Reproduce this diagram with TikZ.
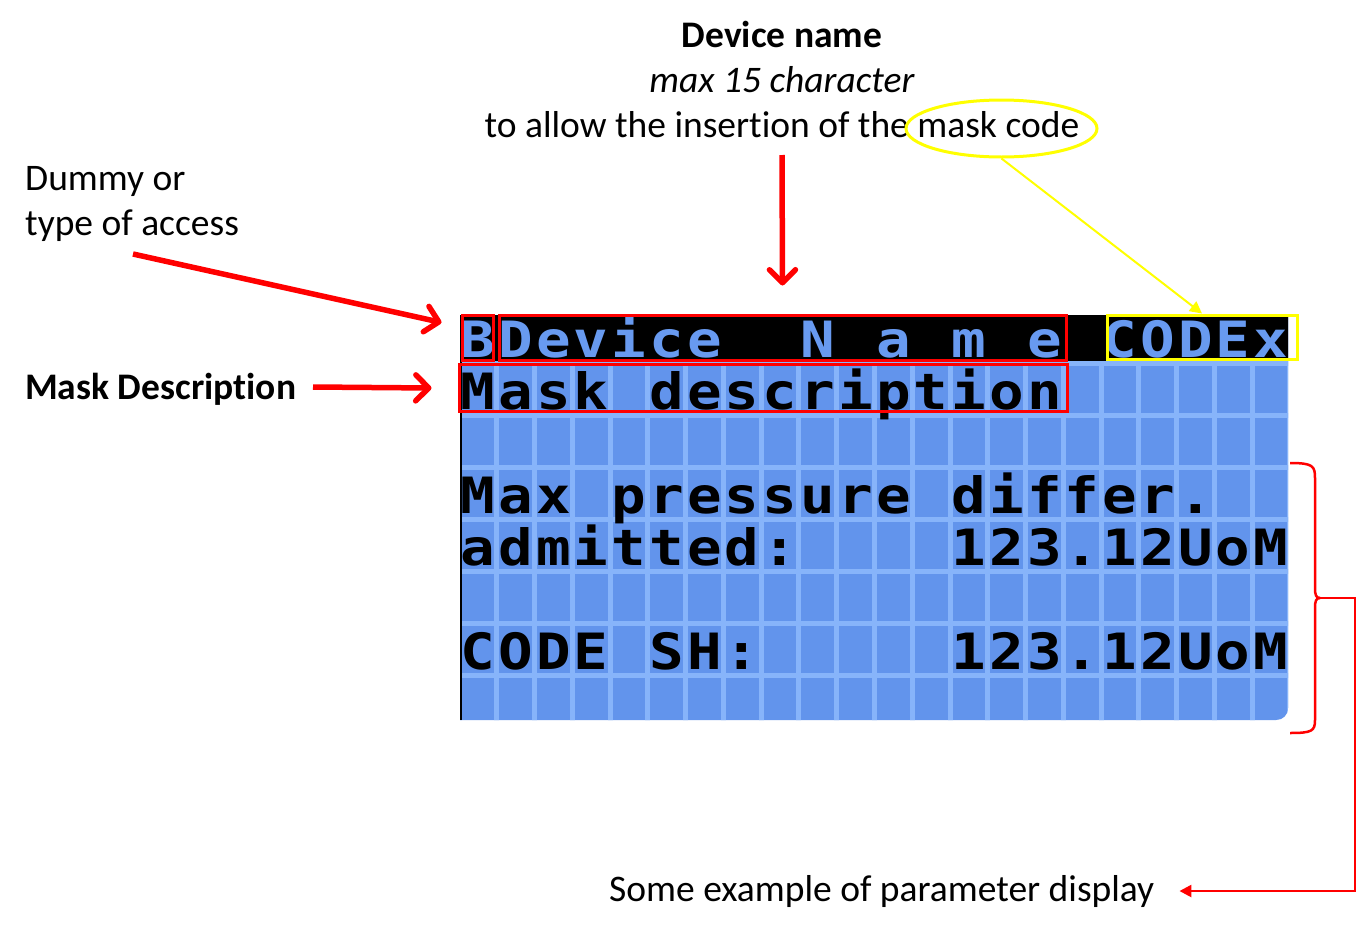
\documentclass[tikz,border=0pt]{standalone}
\usepackage{fontspec}
\setmainfont{Carlito}[Ligatures=NoCommon,Contextuals=NoAlternate]
\newfontfamily\lcdfam[FakeStretch=1.15]{DejaVu Sans Mono}
\usetikzlibrary{arrows.meta,shapes.geometric}
\definecolor{lcdcell}{RGB}{98,148,236}
\definecolor{lcdgap}{RGB}{135,180,250}
\definecolor{lcdtop}{RGB}{104,154,240}
\definecolor{myyellow}{RGB}{255,255,0}
\newcommand\lcdrow[3]{%
  \foreach \ch [count=\k from 0] in {#3} {%
    \if\relax\detokenize\expandafter{\ch}\relax\else
      \node[lcdch, text=#2] (c#1-\k) at ({459+(\k+0.5)*37.77}, {311+#1*52+46}) {\ch};
    \fi
  }}
\tikzset{
  lbl/.style={font=\fontsize{37.5}{45}\selectfont, inner sep=0pt},
  lcdch/.style={font=\lcdfam\bfseries\fontsize{50}{50}\selectfont, anchor=base, inner sep=0pt},
  redbox/.style={draw=red, line width=3pt, inner sep=0pt},
  ybox/.style={draw=myyellow, line width=3pt, inner sep=0pt},
  redarrow/.style={draw=red, line width=5.5pt, -{Straight Barb[length=13pt,width=26pt,round]}},
  yarrow/.style={draw=myyellow, line width=2pt, -{Triangle[length=12pt,width=12pt]}},
  brk/.style={draw=red, line width=2.5pt},
  brarrow/.style={draw=red, line width=2.5pt, -{Triangle[length=12pt,width=12pt]}},
}
\begin{document}
\begin{tikzpicture}[x=1pt,y=-1pt]
\useasboundingbox (0,0) rectangle (1358,937);
\fill[white] (0,0) rectangle (1358,937);
% LCD screen
\begin{scope}
  \clip (460,315) -- (1288,315) -- (1288,708) .. controls (1288,715) and (1283,720) .. (1276,720) -- (460,720) -- cycle;
  \fill[lcdcell] (455,305) rectangle (1295,730);
  \foreach \k in {0,...,22} {\draw[lcdgap, line width=5pt] ({459+\k*37.77},305) -- ({459+\k*37.77},730);}
  \foreach \r in {1,...,8} {\draw[lcdgap, line width=5pt] (455,{311+\r*52}) -- (1295,{311+\r*52});}
  \fill[black] (455,305) rectangle (1295,360.5);
  \draw[black, line width=2.5pt] (461,315) -- (461,720);
  \lcdrow{0}{lcdtop}{B,D,e,v,i,c,e,,,N,,a,,m,,e,,C,O,D,E,x}
  \lcdrow{1}{black}{M,a,s,k,,d,e,s,c,r,i,p,t,i,o,n}
  \lcdrow{3}{black}{M,a,x,,p,r,e,s,s,u,r,e,,d,i,f,f,e,r,.}
  \lcdrow{4}{black}{a,d,m,i,t,t,e,d,:,,,,,1,2,3,.,1,2,U,o,M}
  \lcdrow{6}{black}{C,O,D,E,,S,H,:,,,,,,1,2,3,.,1,2,U,o,M}
\end{scope}
% highlight boxes
\node[redbox, minimum width=31pt, minimum height=45pt] (bbox) at (477.5,337.5) {};
\node[redbox, minimum width=567pt, minimum height=45pt] (devbox) at (782.5,337.5) {};
\node[redbox, minimum width=608pt, minimum height=47pt] (maskbox) at (763,388) {};
\node[ybox, minimum width=190pt, minimum height=44pt] (codebox) at (1202,337) {};
% labels
\node[lbl, align=center, anchor=base] (dn) at (782,137) {\textbf{Device name}\\\textit{max 15 character}\\to allow the insertion of the mask code};
\node[draw=myyellow, line width=3pt, ellipse, minimum width=191pt, minimum height=57pt, inner sep=0pt] (mc) at (1001.5,128.5) {};
\node[lbl, align=left, anchor=base west] (dummy) at (25,235) {Dummy or\\type of access};
\node[lbl, anchor=base west] (mdesc) at (25,399) {\textbf{Mask Description}};
\node[lbl, anchor=base west] (param) at (609,901) {Some example of parameter display};
% connectors
\coordinate (dnstart) at (782,155);
\coordinate (dstart) at (133,254);
\coordinate (mstart) at (313,387);
\draw[redarrow] (dnstart) -- ([yshift=28pt]devbox.north);
\draw[redarrow] (dstart) -- ([xshift=-19pt,yshift=15pt]bbox.west);
\draw[redarrow] (mstart) -- ([xshift=-26pt]maskbox.west);
\draw[yarrow] (mc.south) -- (codebox.north);
% brace
\coordinate (brtip) at (1320,598);
\draw[brk] (1290,463) .. controls (1313,463) and (1315,466) .. (1315,478) -- (1315,588) .. controls (1315,595) and (1316,598) .. (brtip);
\draw[brk] (brtip) .. controls (1316,598) and (1315,601) .. (1315,608) -- (1315,720) .. controls (1315,731) and (1312,733) .. (1290,733);
\draw[brarrow] (brtip) -- (1355,598) |- ([xshift=25pt]param.east);
\end{tikzpicture}
\end{document}
